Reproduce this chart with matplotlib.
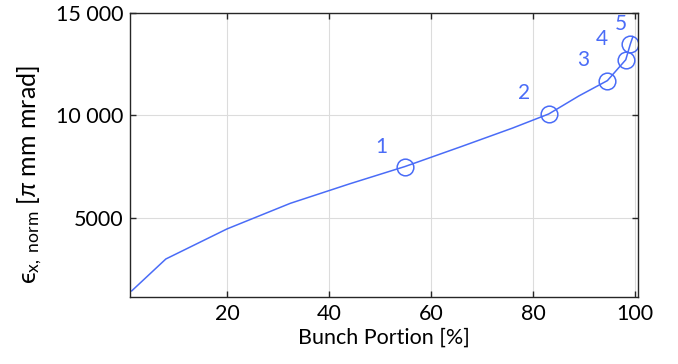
import matplotlib
matplotlib.use('Agg')
import matplotlib.pyplot as plt
import numpy as np

# Emittance vs. bunch portion
portion = [1.3, 8.0, 20.0, 32.4, 44.0, 54.9, 66.0, 76.0, 83.1, 89.0, 94.6, 98.2, 99.1, 99.6]
emit = [1420, 2980, 4450, 5700, 6650, 7500, 8480, 9380, 10070, 10950, 11700, 12720, 13490, 13850]

# Marked points and their labels
mark_idx = [5, 8, 10, 11, 12]
mark_labels = ['1', '2', '3', '4', '5']

y_ticks = [5000, 10000, 15000]
y_ticklabels = ['5000', '10 000', '15 000']
x_ticks = [20, 40, 60, 80, 100]

plt.rcParams['font.family'] = ['Lato', 'DejaVu Sans']
plt.rcParams['mathtext.fontset'] = 'custom'
plt.rcParams['mathtext.rm'] = 'Lato'
plt.rcParams['mathtext.it'] = 'Lato:italic'
plt.rcParams['mathtext.fallback'] = 'stixsans'

blue = '#4a6cf7'

fig = plt.figure(figsize=(6.78, 3.64), dpi=100)
ax = fig.add_axes([0.192, 0.184, 0.749, 0.780])

ax.plot(portion, emit, color=blue, linewidth=1.1)
mx = [portion[i] for i in mark_idx]
my = [emit[i] for i in mark_idx]
ax.plot(mx, my, linestyle='none', marker='o', markersize=12, markerfacecolor='none',
        markeredgecolor=blue, markeredgewidth=1.1)

offsets = [(-24, 20), (-25, 21), (-24, 21), (-24, 21), (-9, 20)]
for lab, x, y, off in zip(mark_labels, mx, my, offsets):
    ax.annotate(lab, (x, y), xytext=off, textcoords='offset pixels',
                ha='center', va='center', color=blue, fontsize=15)

ax.set_xlim(1.0, 100.6)
ax.set_ylim(1120, 15000)
ax.set_xticks(x_ticks)
ax.set_yticks(y_ticks)
ax.set_yticklabels(y_ticklabels)

ax.grid(True, color='#dcdcdc', linewidth=0.8)
ax.set_axisbelow(True)
ax.tick_params(direction='in', length=4, width=1, top=True, right=True,
               labelsize=15.5, colors='#262626', labelcolor='black', pad=5)
for s in ax.spines.values():
    s.set_color('#262626')
    s.set_linewidth(1.0)

ax.set_xlabel('Bunch Portion [%]', fontsize=15.5, labelpad=3)
ax.set_ylabel('ϵ' + r'$_{\mathrm{x,\ norm}}$ [$\pi$ mm mrad]', fontsize=18)
ax.yaxis.set_label_coords(-0.17, 0.43)

fig.savefig('out.png', dpi=100)
